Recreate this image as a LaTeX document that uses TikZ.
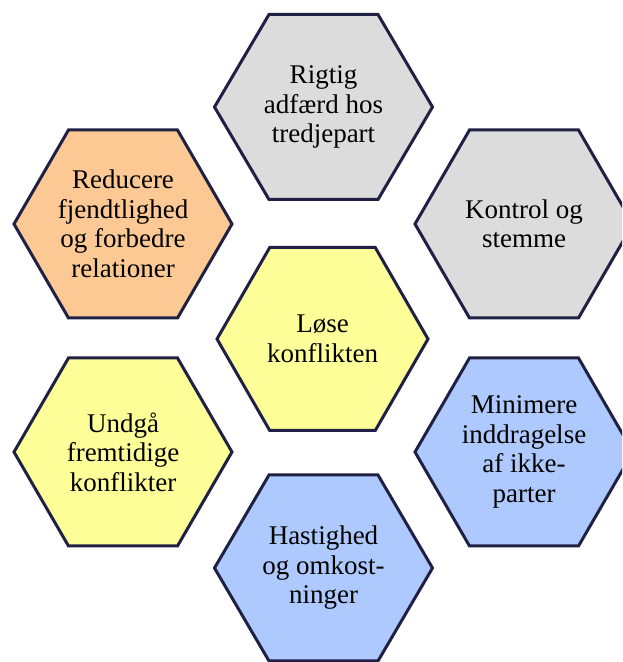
\documentclass[tikz,border=0pt]{standalone}
\usepackage{fontspec}
\setmainfont{LiberationSerif}[Extension=.ttf, UprightFont=*-Regular, BoldFont=*-Bold]
\definecolor{edgec}{HTML}{1F2044}
\definecolor{grayc}{HTML}{DCDCDC}
\definecolor{orangec}{HTML}{FCC994}
\definecolor{yellowc}{HTML}{FFFF9A}
\definecolor{bluec}{HTML}{ADC9FD}
\tikzset{
  hexline/.style={draw=edgec, line width=3pt, line join=miter},
  hextext/.style={align=center, inner sep=0pt, text=black,
    font=\fontsize{27}{29.5}\selectfont}
}
% name, x, y, half-width, half-height, fill, text
\newcommand{\hexcell}[7]{%
  \draw[hexline, fill=#6, shift={(#2,#3)}]
    (-#4,0) -- ({-#4/2},#5) -- ({#4/2},#5) -- (#4,0)
    -- ({#4/2},-#5) -- ({-#4/2},-#5) -- cycle;
  \node[hextext] (#1) at (#2,#3) {#7};
}
\begin{document}
\begin{tikzpicture}[x=1pt,y=1pt]
\useasboundingbox (0,0) rectangle (622,662);
\clip (0,0) rectangle (622,662);
\fill[white] (0,0) rectangle (622,662);
\hexcell{top}{323.5}{555}{109}{92.5}{grayc}{Rigtig\\adfærd hos\\tredjepart}
\hexcell{lt}{123}{438}{109}{94}{orangec}{Reducere\\fjendtlighed\\og forbedre\\relationer}
\hexcell{rt}{524}{438}{109}{94}{grayc}{Kontrol og\\stemme}
\hexcell{ctr}{322.5}{323}{105.5}{91.5}{yellowc}{Løse\\konflikten}
\hexcell{lb}{123}{210}{109}{94}{yellowc}{Undgå\\fremtidige\\konflikter}
\hexcell{rb}{524}{210}{109}{94}{bluec}{Minimere\\inddragelse\\af ikke-\\parter}
\hexcell{bot}{323.5}{94}{109}{93}{bluec}{Hastighed\\og omkost-\\ninger}
\end{tikzpicture}
\end{document}
